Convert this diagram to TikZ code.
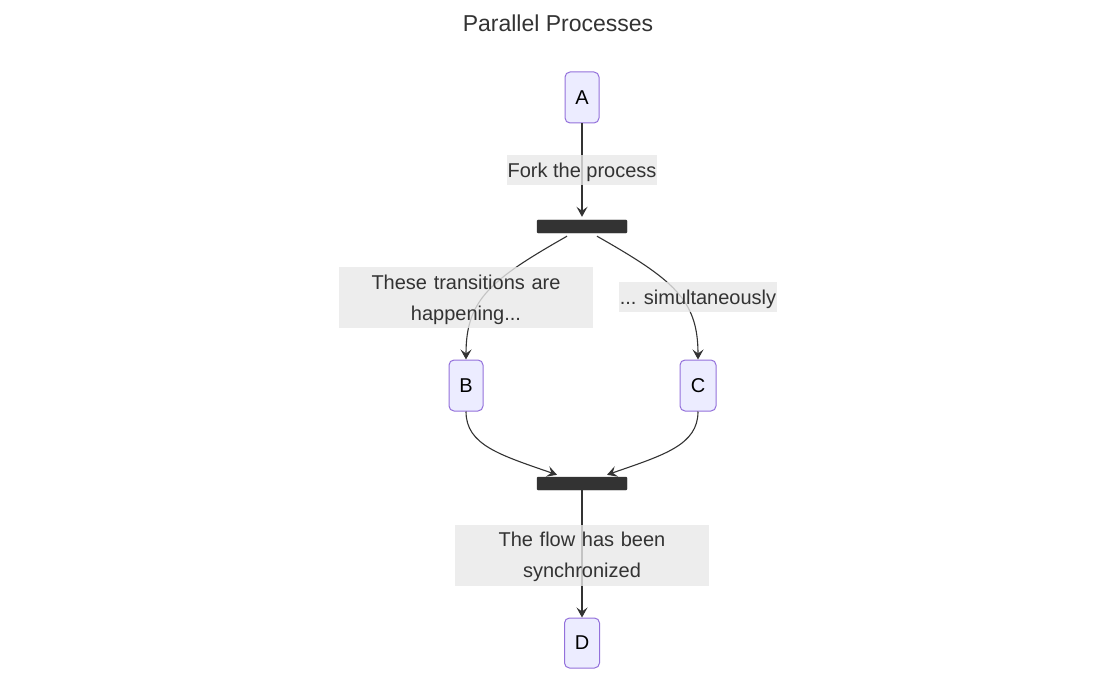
\documentclass[tikz,border=0pt]{standalone}
\usepackage{fontspec}
\setmainfont{Liberation Sans}
\usetikzlibrary{arrows.meta,calc}
\definecolor{nodefill}{HTML}{ECECFF}
\definecolor{nodeline}{HTML}{9370DB}
\definecolor{txt}{HTML}{333333}
\definecolor{lblbg}{HTML}{E8E8E8}
\tikzset{
  statebox/.style={draw=nodeline, fill=nodefill, line width=1pt, rounded corners=5pt,
    minimum width=34pt, minimum height=51pt, inner sep=0pt, font=\fontsize{20}{30}\selectfont, text=black},
  bar/.style={fill=txt, draw=txt, minimum width=90pt, minimum height=13pt, inner sep=0pt, rounded corners=1pt},
  lbl/.style={fill=lblbg, fill opacity=0.8, text opacity=1, text=txt, inner xsep=1pt, inner ysep=0pt,
    minimum height=30pt, text height=16pt, text depth=1.8pt, font=\fontsize{20}{30}\selectfont},
  lbl2/.style={fill=lblbg, fill opacity=0.8, text opacity=1, text=txt, inner sep=0pt,
    text width=254pt, align=center, minimum height=61pt, text height=18pt, text depth=34.8pt,
    font=\fontsize{20}{31}\selectfont},
  edge/.style={draw=txt, line width=1.1pt, -{Stealth[length=10pt,width=11pt,inset=4pt]}},
}
\begin{document}
\begin{tikzpicture}[x=1pt,y=-1pt]
\useasboundingbox (0,0) rectangle (1116,679);
\node[text=txt, font=\fontsize{23}{28}\selectfont] (title) at (558,23) {Parallel Processes};
\node[statebox] (A) at (582,97.5) {A};
\node[bar] (fork) at (582,226.5) {};
\node[statebox] (B) at (466,385.5) {B};
\node[statebox, minimum width=36pt] (C) at (698,385.5) {C};
\node[bar] (join) at (582,483.5) {};
\node[statebox, minimum width=35pt, minimum height=50pt] (D) at (582,643) {D};

\draw[edge] (A.south) -- ($(fork.north)+(0,-3)$);
\draw[edge] ($(fork.south)+(-15,3)$) .. controls (490,280) and (466,300) .. (B.north);
\draw[edge] ($(fork.south)+(15,3)$) .. controls (674,280) and (698,300) .. (C.north);
\draw[edge] (B.south) .. controls (466,445) and (500,455) .. ($(join.north)+(-25,-2)$);
\draw[edge] (C.south) .. controls (698,445) and (664,455) .. ($(join.north)+(25,-2)$);
\draw[edge] (join.south) -- (D.north);

\node[lbl] (l1) at (582,170) {Fork the process};
\node[lbl2] (l2) at (466,297.5) {These transitions are\\happening...};
\node[lbl] (l3) at (698,297) {... simultaneously};
\node[lbl2] (l4) at (582,555) {The flow has been\\synchronized};
\end{tikzpicture}
\end{document}
